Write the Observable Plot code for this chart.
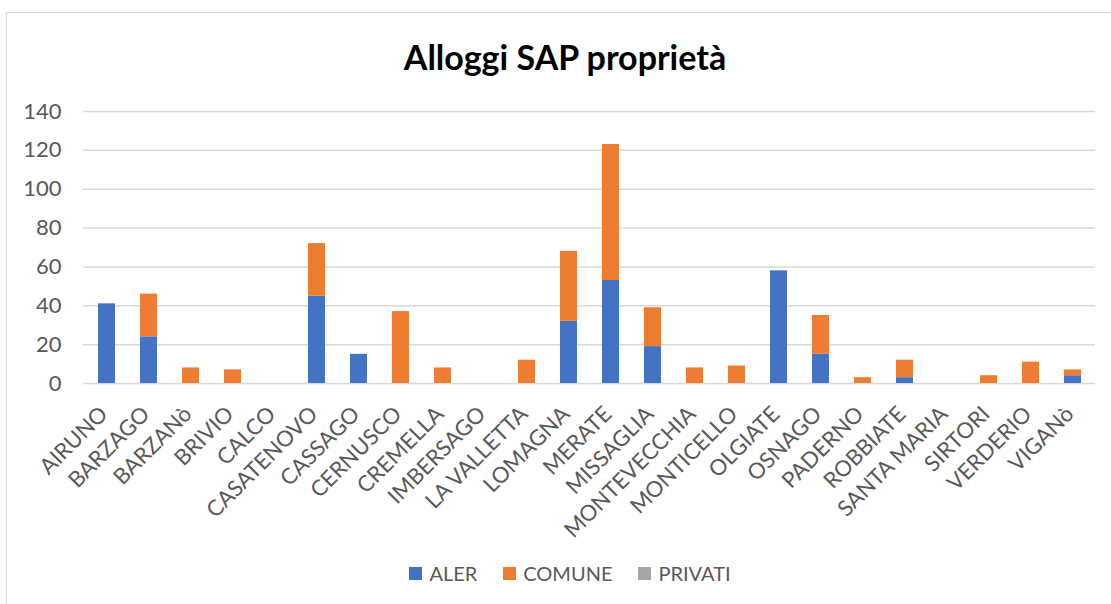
<!DOCTYPE html>
<html>
<head>
<meta charset="utf-8">
<script src="https://cdn.jsdelivr.net/npm/d3@7"></script>
<script src="https://cdn.jsdelivr.net/npm/@observablehq/plot@0.6"></script>
<style>
  html, body { margin: 0; padding: 0; background: #fff; }
  body { width: 1111px; height: 604px; position: relative; overflow: hidden; font-family: Lato, "Open Sans", sans-serif; }
  #frame { position: absolute; left: 6px; top: 12px; width: 1130px; height: 620px; border: 1px solid #d9d9d9; box-sizing: border-box; }
  #title { position: absolute; left: 0; width: 1130px; top: 36px; text-align: center; font-size: 34px; font-weight: bold; color: #000; line-height: 42px; }
  #chart { position: absolute; left: 0; top: 90px; }
  #legend { position: absolute; left: 0; width: 1140px; top: 561px; display: flex; justify-content: center; gap: 26px; font-size: 20px; color: #595959; line-height: 24px; }
  .item { display: flex; align-items: center; gap: 7px; }
  .sw { width: 13px; height: 13px; display: inline-block; }
</style>
</head>
<body>
<div id="frame"></div>
<div id="title">Alloggi SAP proprietà</div>
<div id="chart"></div>
<div id="legend"></div>
<script>
const categories = ["AIRUNO","BARZAGO","BARZANò","BRIVIO","CALCO","CASATENOVO","CASSAGO","CERNUSCO","CREMELLA","IMBERSAGO","LA VALLETTA","LOMAGNA","MERATE","MISSAGLIA","MONTEVECCHIA","MONTICELLO","OLGIATE","OSNAGO","PADERNO","ROBBIATE","SANTA MARIA","SIRTORI","VERDERIO","VIGANò"];
const aler    = [41,24,0,0,0,45,15,0,0,0,0,32,53,19,0,0,58,15,0,3,0,0,0,4];
const comune  = [0,22,8,7,0,27,0,37,8,0,12,36,70,20,8,9,0,20,3,9,0,4,11,3];
const privati = [0,0,0,0,0,0,0,0,0,0,0,0,0,0,0,0,0,0,0,0,0,0,0,0];
const seriesNames = ["ALER","COMUNE","PRIVATI"];
const seriesColors = ["#4472C4","#ED7D31","#A5A5A5"];
const yTicks = [0,20,40,60,80,100,120,140];

const rows = [];
const seriesValues = [aler, comune, privati];
categories.forEach((c, i) => {
  seriesNames.forEach((s, j) => rows.push({cat: c, series: s, value: seriesValues[j][i]}));
});

const plot = Plot.plot({
  width: 1111,
  height: 460,
  marginLeft: 83,
  marginRight: 16,
  marginTop: 21,
  marginBottom: 167,
  style: {fontFamily: "Lato, 'Open Sans', sans-serif", color: "#595959", background: "transparent", overflow: "visible"},
  x: {domain: categories, paddingInner: 0.6, paddingOuter: 0.3, label: null},
  y: {domain: [0, 140], label: null},
  color: {domain: seriesNames, range: seriesColors},
  marks: [
    Plot.gridY(yTicks, {stroke: "#d9d9d9", strokeOpacity: 1, strokeWidth: 1.5}),
    Plot.barY(rows, {x: "cat", y: "value", fill: "series"}),
    Plot.axisY({ticks: yTicks, tickSize: 0, tickPadding: 22, fontSize: 22, fill: "#595959"}),
    Plot.axisX({tickSize: 0, tickRotate: -45, tickPadding: 27, dx: -3, fontSize: 22, fill: "#595959"})
  ]
});
document.getElementById("chart").appendChild(plot);

const leg = document.getElementById("legend");
seriesNames.forEach((s, j) => {
  const it = document.createElement("div");
  it.className = "item";
  const sw = document.createElement("span");
  sw.className = "sw";
  sw.style.background = seriesColors[j];
  const t = document.createElement("span");
  t.textContent = s;
  it.appendChild(sw); it.appendChild(t);
  leg.appendChild(it);
});
</script>
</body>
</html>
